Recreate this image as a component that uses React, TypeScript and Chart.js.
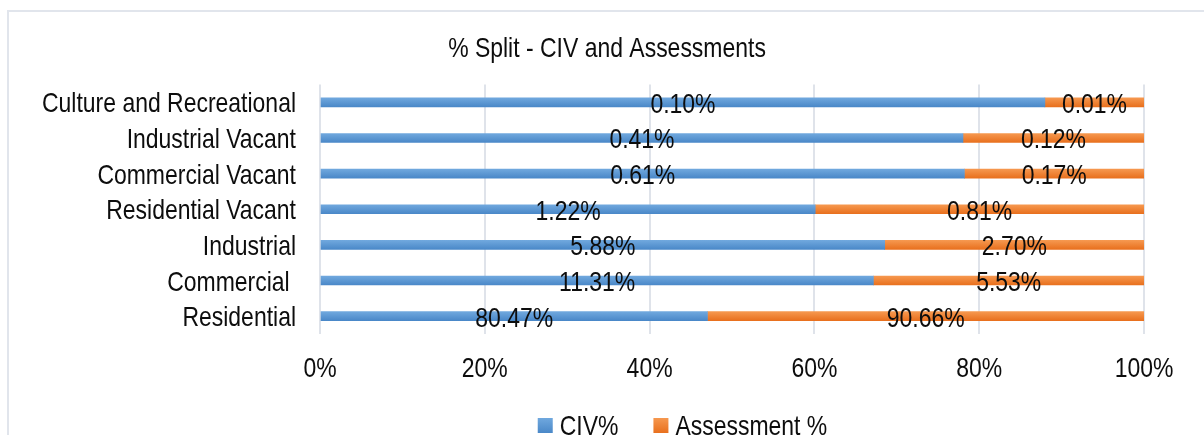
import React, { useEffect, useRef } from 'react';
import { Chart, registerables } from 'chart.js';

Chart.register(...registerables);

const titleText = '% Split - CIV and Assessments';
const categories = [
  'Culture and Recreational',
  'Industrial Vacant',
  'Commercial Vacant',
  'Residential Vacant',
  'Industrial',
  'Commercial ',
  'Residential',
];
const seriesNames = ['CIV%', 'Assessment %'];
const civValues = [0.098, 0.412, 0.61, 1.22, 5.88, 11.31, 80.47];
const assessmentValues = [0.0134, 0.116, 0.17, 0.81, 2.7, 5.53, 90.66];
const xTickValues = [0, 20, 40, 60, 80, 100];

const FONT = "'Liberation Sans', Arial, sans-serif";
const FONT_SIZE = 28;
const SX = 0.82; // horizontal compression to mimic a narrow face
const TEXT_COLOR = '#0d0d0d';
const GRID_COLOR = '#dfe3ea';
const BLUE = ['#70a8de', '#4a88c8', '#5b9bd5'];
const ORANGE = ['#f6984f', '#e8701e', '#ed7d31'];

const rawSeries = [civValues, assessmentValues];
const totals = civValues.map((v, i) => v + assessmentValues[i]);
const civShare = civValues.map((v, i) => (v / totals[i]) * 100);
const assessmentShare = assessmentValues.map((v, i) => (v / totals[i]) * 100);

function barGradient(colors: string[]) {
  return (c: any) => {
    const chart = c.chart;
    const yScale = chart.scales?.y;
    if (!yScale || c.dataIndex === undefined || !chart.chartArea) return colors[2];
    const y = yScale.getPixelForValue(c.dataIndex);
    const g = chart.ctx.createLinearGradient(0, y - 4.5, 0, y + 4.5);
    g.addColorStop(0, colors[0]);
    g.addColorStop(1, colors[1]);
    return g;
  };
}

function narrowText(ctx: CanvasRenderingContext2D, text: string, x: number, y: number, align: CanvasTextAlign) {
  ctx.save();
  ctx.translate(x, y);
  ctx.scale(SX, 1);
  ctx.font = `${FONT_SIZE}px ${FONT}`;
  ctx.fillStyle = TEXT_COLOR;
  ctx.textAlign = align;
  ctx.textBaseline = 'alphabetic';
  ctx.fillText(text, 0, 0);
  ctx.restore();
}

function narrowWidth(ctx: CanvasRenderingContext2D, text: string) {
  ctx.save();
  ctx.font = `${FONT_SIZE}px ${FONT}`;
  const w = ctx.measureText(text).width * SX;
  ctx.restore();
  return w;
}

const dataLabelPlugin = {
  id: 'dataLabels',
  afterDatasetsDraw(chart: any) {
    const ctx = chart.ctx;
    chart.data.datasets.forEach((ds: any, i: number) => {
      const meta = chart.getDatasetMeta(i);
      meta.data.forEach((bar: any, j: number) => {
        const { x, y, base } = bar.getProps(['x', 'y', 'base'], true);
        const text = rawSeries[i][j].toFixed(2) + '%';
        narrowText(ctx, text, (x + base) / 2, y + 10.5, 'center');
      });
    });
  },
};

const textPlugin = {
  id: 'narrowTexts',
  afterDraw(chart: any) {
    const ctx = chart.ctx;
    const area = chart.chartArea;
    // title
    narrowText(ctx, titleText, 607, area.top - 28, 'center');
    // y-axis category labels
    const ys = chart.scales.y;
    categories.forEach((c, i) => {
      narrowText(ctx, c, area.left - 24, ys.getPixelForValue(i) + 10, 'right');
    });
    // x-axis tick labels
    const xs = chart.scales.x;
    xTickValues.forEach((v) => {
      narrowText(ctx, v + '%', xs.getPixelForValue(v), area.bottom + 43, 'center');
    });
    // legend
    const box = 15;
    const gapText = 7;
    const gapItem = 35;
    const widths = seriesNames.map((t) => narrowWidth(ctx, t));
    const total = widths.reduce((a, w) => a + box + gapText + w, 0) + gapItem * (seriesNames.length - 1);
    let x = 682.5 - total / 2;
    const yBase = area.bottom + 101;
    const boxTop = yBase - 17;
    seriesNames.forEach((t, i) => {
      const cols = i === 0 ? BLUE : ORANGE;
      const grad = ctx.createLinearGradient(0, boxTop, 0, boxTop + box);
      grad.addColorStop(0, cols[0]);
      grad.addColorStop(1, cols[1]);
      ctx.save();
      ctx.fillStyle = grad;
      ctx.fillRect(x, boxTop, box, box);
      ctx.restore();
      narrowText(ctx, t, x + box + gapText, yBase, 'left');
      x += box + gapText + widths[i] + gapItem;
    });
  },
};

export default function App() {
  const canvasRef = useRef<HTMLCanvasElement | null>(null);

  useEffect(() => {
    if (!canvasRef.current) return;
    const chart = new Chart(canvasRef.current, {
      type: 'bar',
      data: {
        labels: categories,
        datasets: [
          {
            label: seriesNames[0],
            data: civShare,
            backgroundColor: barGradient(BLUE),
            barThickness: 9,
          },
          {
            label: seriesNames[1],
            data: assessmentShare,
            backgroundColor: barGradient(ORANGE),
            barThickness: 9,
          },
        ],
      },
      options: {
        indexAxis: 'y',
        responsive: false,
        animation: false,
        events: [],
        layout: { padding: { top: 84.5, left: 0, right: 0, bottom: 101 } },
        plugins: {
          legend: { display: false },
          tooltip: { enabled: false },
          title: { display: false },
        },
        scales: {
          x: {
            type: 'linear',
            position: 'bottom',
            stacked: true,
            min: 0,
            max: 100,
            afterBuildTicks: (s: any) => {
              s.ticks = xTickValues.map((v) => ({ value: v }));
            },
            afterFit: (s: any) => {
              s.height = 0;
            },
            ticks: { display: false },
            grid: { color: GRID_COLOR, lineWidth: 2, drawTicks: false },
            border: { display: false },
          },
          y: {
            type: 'category',
            position: 'left',
            stacked: true,
            afterFit: (s: any) => {
              s.width = 320;
            },
            ticks: { display: false, autoSkip: false },
            grid: { display: false, drawTicks: false },
            border: { display: false },
          },
          yRight: {
            type: 'linear',
            position: 'right',
            display: true,
            afterFit: (s: any) => {
              s.width = 60;
            },
            ticks: { display: false },
            grid: { display: false, drawTicks: false },
            border: { display: false },
          },
        },
      } as any,
      plugins: [dataLabelPlugin, textPlugin],
    });
    return () => chart.destroy();
  }, []);

  return (
    <div style={{ position: 'fixed', left: 0, top: 0, width: 1204, height: 435, overflow: 'hidden', background: '#ffffff' }}>
      <div
        style={{
          position: 'absolute',
          left: 7,
          top: 10,
          width: 1400,
          height: 600,
          borderLeft: '2px solid #e1e5ec',
          borderTop: '2px solid #e1e5ec',
        }}
      />
      <canvas ref={canvasRef} width={1204} height={435} style={{ position: 'absolute', left: 0, top: 0 }} />
    </div>
  );
}
